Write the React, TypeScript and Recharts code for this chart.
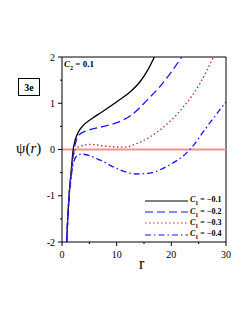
import React from "react";
import { LineChart, Line, XAxis, YAxis, ReferenceLine } from "recharts";

// r values and psi(r), one pair of arrays per C1
const rA = [0.85, 1.0, 1.28, 1.65, 2.05, 2.4, 3.0, 3.65, 5.5, 7.3, 10.6, 12.5, 14.3, 15.6, 16.9];
const psiA = [-2, -1.6, -1.0, -0.5, 0, 0.2, 0.38, 0.49, 0.67, 0.81, 1.08, 1.25, 1.47, 1.7, 2];

const rB = [0.85, 1.0, 1.28, 1.65, 2.2, 2.5, 3.05, 4.9, 7.3, 10, 12.4, 16, 17.9, 21.9];
const psiB = [-2, -1.62, -1.02, -0.55, 0, 0.15, 0.31, 0.42, 0.49, 0.58, 0.72, 1.12, 1.36, 2];

const rC = [0.85, 1.0, 1.28, 1.65, 2.2, 2.6, 3.3, 5.1, 8.2, 11.2, 14.3, 17.9, 22.2, 25.2, 27.7];
const psiC = [-2, -1.63, -1.04, -0.58, -0.1, 0.02, 0.07, 0.11, 0.07, 0.05, 0.16, 0.42, 0.92, 1.42, 2];

const rD = [0.85, 1.0, 1.28, 1.65, 2.2, 2.8, 3.6, 7, 10, 13.6, 16, 19.1, 23.4, 26.5, 30];
const psiD = [-2, -1.65, -1.08, -0.62, -0.25, -0.13, -0.1, -0.23, -0.41, -0.53, -0.51, -0.37, 0, 0.49, 1.03];

const xTicks = [0, 5, 10, 15, 20, 25, 30];
const yTicks = [-2, -1.5, -1, -0.5, 0, 0.5, 1, 1.5, 2];

const series = [
  { key: "a", label: "−0.1", r: rA, psi: psiA, color: "#000000", dash: undefined },
  { key: "b", label: "−0.2", r: rB, psi: psiB, color: "#1414ff", dash: "8 4" },
  { key: "c", label: "−0.3", r: rC, psi: psiC, color: "#c0302a", dash: "1.5 2.5" },
  { key: "d", label: "−0.4", r: rD, psi: psiD, color: "#1414ff", dash: "6 3 1.5 3" },
];

const toRows = (r: number[], psi: number[]) => r.map((v, i) => ({ r: v, psi: psi[i] }));

const FONT = "'Liberation Serif', 'Times New Roman', serif";

function YTick(props: any) {
  const { x, y, payload } = props;
  const major = Number.isInteger(payload.value);
  return (
    <g>
      <line x1={x} x2={x - (major ? 4 : 2)} y1={y} y2={y} stroke="#000" />
      {major && (
        <text x={x - 7} y={y} textAnchor="end" dominantBaseline="central" fontSize={10} fontFamily={FONT}>
          {payload.value}
        </text>
      )}
    </g>
  );
}

function XTick(props: any) {
  const { x, y, payload } = props;
  const major = payload.value % 10 === 0;
  return (
    <g>
      <line x1={x} x2={x} y1={y} y2={y + (major ? 4 : 2)} stroke="#000" />
      {major && (
        <text x={x} y={y + 12} textAnchor="middle" dominantBaseline="central" fontSize={10} fontFamily={FONT}>
          {payload.value}
        </text>
      )}
    </g>
  );
}

function LegendBox() {
  return (
    <div style={{ position: "absolute", left: 145, top: 195, fontFamily: FONT, fontSize: 8, fontWeight: "bold" }}>
      {series.map((s) => (
        <div key={s.key} style={{ display: "flex", alignItems: "center", height: 11.3 }}>
          <svg width={43} height={6}>
            <line x1={0} x2={43} y1={3} y2={3} stroke={s.color} strokeWidth={1.2} strokeDasharray={s.dash} />
          </svg>
          <span style={{ marginLeft: 2, whiteSpace: "nowrap" }}>
            <i>C</i>
            <sub style={{ fontSize: 6 }}>1</sub> = {s.label}
          </span>
        </div>
      ))}
    </div>
  );
}

export default function App() {
  return (
    <div style={{ position: "absolute", left: 0, top: 0, width: 249, height: 323, background: "#fff" }}>
      <LineChart width={249} height={323} margin={{ top: 57, right: 23, bottom: 51, left: 42 }}>
        <XAxis
          type="number"
          dataKey="r"
          domain={[0, 30]}
          ticks={xTicks}
          interval={0}
          allowDataOverflow
          height={30}
          tickLine={false}
          tickSize={0}
          tickMargin={0}
          tick={<XTick />}
          stroke="#000"
        />
        <YAxis
          type="number"
          dataKey="psi"
          domain={[-2, 2]}
          ticks={yTicks}
          interval={0}
          allowDataOverflow
          width={20}
          tickLine={false}
          tickSize={0}
          tickMargin={0}
          tick={<YTick />}
          stroke="#000"
        />
        <ReferenceLine y={2} stroke="#000" />
        <ReferenceLine x={30} stroke="#000" />
        <ReferenceLine y={0} stroke="#f49090" strokeWidth={2} />
        {series.map((s) => (
          <Line
            key={s.key}
            data={toRows(s.r, s.psi)}
            dataKey="psi"
            type="monotone"
            stroke={s.color}
            strokeWidth={1.3}
            strokeDasharray={s.dash}
            dot={false}
            isAnimationActive={false}
          />
        ))}
      </LineChart>
      <LegendBox />
      <div
        style={{
          position: "absolute",
          left: 64,
          top: 59,
          fontFamily: FONT,
          fontSize: 9,
          fontWeight: "bold",
          whiteSpace: "nowrap",
        }}
      >
        <i>C</i>
        <sub style={{ fontSize: 6 }}>2</sub> = 0.1
      </div>
      <div
        style={{
          position: "absolute",
          left: 18,
          top: 78,
          width: 20,
          height: 16,
          border: "1px solid #000",
          fontFamily: FONT,
          fontSize: 10,
          fontWeight: "bold",
          display: "flex",
          alignItems: "center",
          justifyContent: "center",
        }}
      >
        3e
      </div>
      <div style={{ position: "absolute", left: 16, top: 140, fontFamily: FONT, fontSize: 15, whiteSpace: "nowrap" }}>
        ψ(<i>r</i>)
      </div>
      <div style={{ position: "absolute", left: 139, top: 255, fontFamily: FONT, fontSize: 16 }}>r</div>
    </div>
  );
}
